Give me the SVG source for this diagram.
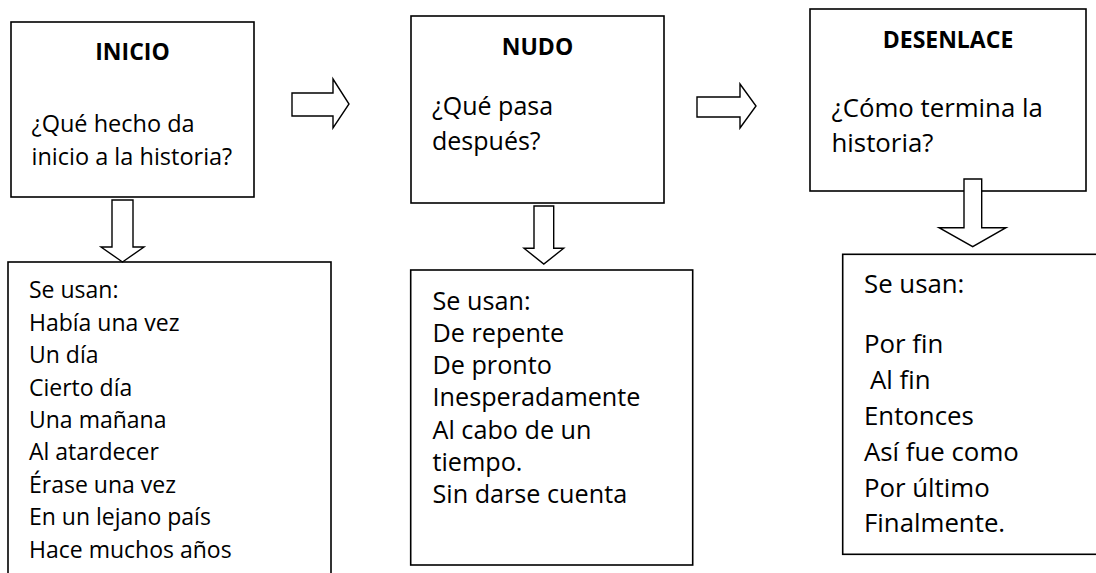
<svg xmlns="http://www.w3.org/2000/svg" width="1096" height="573" viewBox="0 0 1096 573">
<style>
.box{fill:#fff;stroke:#000;stroke-width:1.6}
.arr{fill:#fff;stroke:#000;stroke-width:1.4;stroke-linejoin:miter}
text{font-family:"Open Sans","Noto Sans","DejaVu Sans",sans-serif;fill:#000}
.t{font-weight:bold;font-size:23px;text-anchor:middle}
.q1{font-size:23.5px}
.q2{font-size:25px}
.q3{font-size:25.8px}
.l1{font-size:23px}
.l2{font-size:25.2px}
.l3{font-size:25.8px}
</style>
<rect width="1096" height="573" fill="#fff"/>
<g id="inicio">
<rect class="box" x="11" y="22" width="243" height="175"/>
<text class="t" x="132.5" y="60">INICIO</text>
<text class="q1" x="31.5" y="131.7">¿Qué hecho da</text>
<text class="q1" x="31.5" y="165">inicio a la historia?</text>
</g>
<g id="nudo">
<rect class="box" x="411" y="16" width="253" height="187"/>
<text class="t" x="537.5" y="55">NUDO</text>
<text class="q2" x="432" y="115">¿Qué pasa</text>
<text class="q2" x="432" y="150">después?</text>
</g>
<g id="desenlace">
<rect class="box" x="810" y="9" width="276" height="182"/>
<text class="t" x="948" y="48.3">DESENLACE</text>
<text class="q3" x="831.5" y="116.7">¿Cómo termina la</text>
<text class="q3" x="831.5" y="151.7">historia?</text>
</g>
<g id="inicio-usos">
<rect class="box" x="8" y="262" width="323" height="330"/>
<text class="l1" x="29" y="298.3">Se usan:</text>
<text class="l1" x="29" y="330.7">Había una vez</text>
<text class="l1" x="29" y="363.1">Un día</text>
<text class="l1" x="29" y="395.5">Cierto día</text>
<text class="l1" x="29" y="427.9">Una mañana</text>
<text class="l1" x="29" y="460.3">Al atardecer</text>
<text class="l1" x="29" y="492.7">Érase una vez</text>
<text class="l1" x="29" y="525.1">En un lejano país</text>
<text class="l1" x="29" y="557.5">Hace muchos años</text>
</g>
<g id="nudo-usos">
<rect class="box" x="410.7" y="270" width="282" height="295"/>
<text class="l2" x="432.5" y="309.5">Se usan:</text>
<text class="l2" x="432.5" y="341.8">De repente</text>
<text class="l2" x="432.5" y="374.1">De pronto</text>
<text class="l2" x="432.5" y="406.4">Inesperadamente</text>
<text class="l2" x="432.5" y="438.7">Al cabo de un</text>
<text class="l2" x="432.5" y="471">tiempo.</text>
<text class="l2" x="432.5" y="503.3">Sin darse cuenta</text>
</g>
<g id="desenlace-usos">
<rect class="box" x="842.7" y="254.3" width="280" height="300"/>
<text class="l3" x="864" y="293.3">Se usan:</text>
<text class="l3" x="864" y="353.3">Por fin</text>
<text class="l3" x="870" y="389.3">Al fin</text>
<text class="l3" x="864" y="425">Entonces</text>
<text class="l3" x="864" y="460.7">Así fue como</text>
<text class="l3" x="864" y="496.7">Por último</text>
<text class="l3" x="864" y="531.7">Finalmente.</text>
</g>
<g id="connectors">
<path class="arr" d="M292,93 H333 V79 L349,104 L333,128 V116 H292 Z"/>
<path class="arr" d="M697,97 H740 V84 L756,106 L740,128 V117 H697 Z"/>
<path class="arr" d="M112,200 H133 V247 H144 L122.5,262 L101,247 H112 Z"/>
<path class="arr" d="M534,206 H553.7 V248.3 H563.7 L543.8,264 L524,248.3 H534 Z"/>
<path class="arr" d="M964,179 H981.7 V227.7 H1006 L972.7,246.7 L939,227.7 H964 Z"/>
</g>
</svg>
